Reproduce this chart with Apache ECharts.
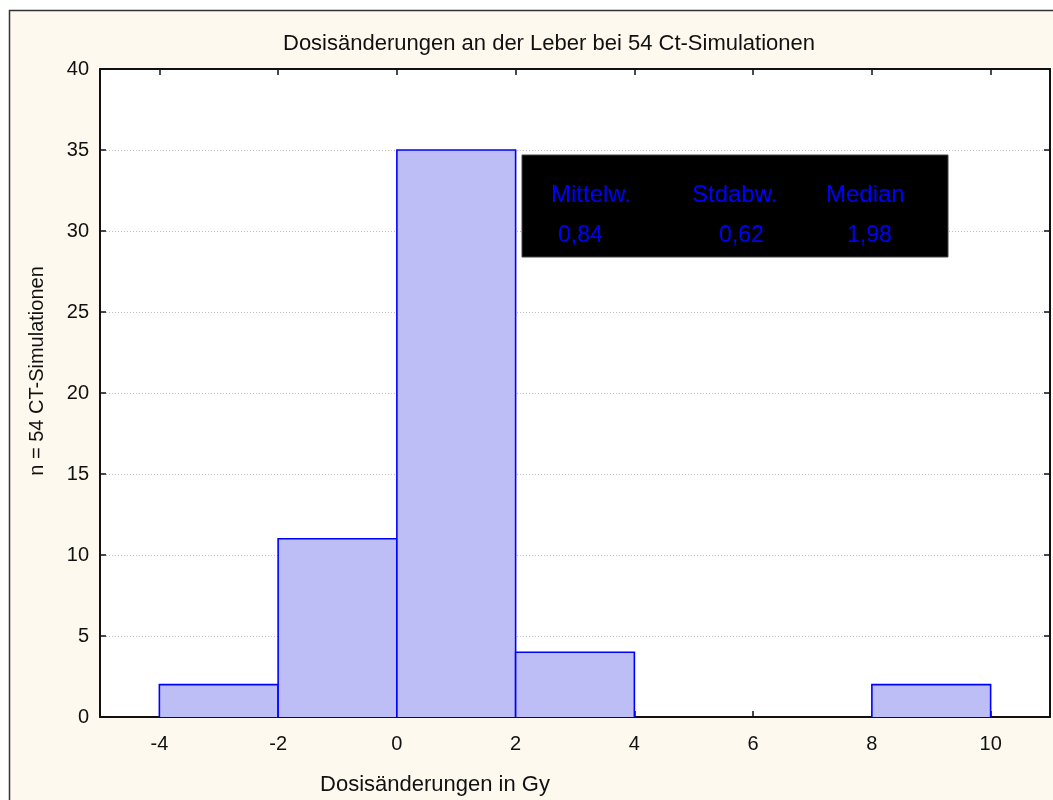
<!DOCTYPE html>
<html>
<head>
<meta charset="utf-8">
<script src="https://cdn.jsdelivr.net/npm/echarts@6/dist/echarts.min.js"></script>
<style>
html,body{margin:0;padding:0;background:#fff;}
#chart{width:1053px;height:800px;}
</style>
</head>
<body>
<div id="chart"></div>
<script>
// Histogram bins: lower edge, upper edge, count
const binStart = [-4, -2, 0, 2, 8];
const binEnd   = [-2, 0, 2, 4, 10];
const counts   = [2, 11, 35, 4, 2];
const xTicks = [-4, -2, 0, 2, 4, 6, 8, 10];
const yTicks = [0, 5, 10, 15, 20, 25, 30, 35, 40];
const statNames  = ['Mittelw.', 'Stdabw.', 'Median'];
const statValues = ['0,84', '0,62', '1,98'];

const FONT = '"Liberation Sans", Arial, sans-serif';
const chart = echarts.init(document.getElementById('chart'), null, {renderer: 'canvas'});

const data = binStart.map((s, i) => [s, binEnd[i], counts[i]]);

const axisLineStyle = {color: '#111', width: 2};

const statX1 = [551, 692, 826];
const statX2 = [558, 719, 847];

const option = {
  backgroundColor: '#FEF9EE',
  animation: false,
  grid: {left: 100, top: 69, right: 3, bottom: 83, show: true, backgroundColor: '#fff', borderWidth: 0},
  xAxis: [{
    type: 'value', min: -5, max: 11,
    axisLine: {show: true, onZero: false, lineStyle: axisLineStyle},
    axisTick: {show: true, inside: true, length: 6, customValues: xTicks, lineStyle: {color: '#111', width: 1.5}},
    axisLabel: {customValues: xTicks, fontSize: 20, color: '#111', fontFamily: FONT, margin: 17},
    splitLine: {show: false}
  }, {
    type: 'value', min: -5, max: 11, position: 'top',
    axisLine: {show: true, onZero: false, lineStyle: axisLineStyle},
    axisTick: {show: true, inside: true, length: 6, customValues: xTicks, lineStyle: {color: '#111', width: 1.5}},
    axisLabel: {show: false, customValues: xTicks},
    splitLine: {show: false}
  }],
  yAxis: [{
    type: 'value', min: 0, max: 40, interval: 5,
    axisLine: {show: true, onZero: false, lineStyle: axisLineStyle},
    axisTick: {show: true, inside: true, length: 6, lineStyle: {color: '#111', width: 1.5}},
    axisLabel: {fontSize: 20, color: '#111', fontFamily: FONT, margin: 11},
    splitLine: {show: true, lineStyle: {color: '#bdbdbd', width: 1, type: [1, 2]}}
  }, {
    type: 'value', min: 0, max: 40, interval: 5, position: 'right',
    axisLine: {show: true, onZero: false, lineStyle: axisLineStyle},
    axisTick: {show: true, inside: true, length: 6, lineStyle: {color: '#111', width: 1.5}},
    axisLabel: {show: false},
    splitLine: {show: false}
  }],
  series: [{
    type: 'custom',
    xAxisIndex: 0, yAxisIndex: 0,
    data: data,
    encode: {x: [0, 1], y: 2},
    renderItem: function (params, api) {
      const p0 = api.coord([api.value(0), api.value(2)]);
      const p1 = api.coord([api.value(1), 0]);
      return {
        type: 'group',
        children: [{
          type: 'rect',
          shape: {x: p0[0], y: p0[1], width: p1[0] - p0[0], height: p1[1] - p0[1]},
          style: {fill: '#BEBEF7', stroke: null}
        }, {
          type: 'polyline',
          shape: {points: [[p0[0], p1[1]], [p0[0], p0[1]], [p1[0], p0[1]], [p1[0], p1[1]]]},
          style: {fill: null, stroke: '#0000ff', lineWidth: 1.6}
        }]
      };
    },
    z: 1
  }],
  graphic: [
    {type: 'rect', z: 100, shape: {x: 0, y: 0, width: 1053, height: 10.5}, style: {fill: '#fff'}},
    {type: 'rect', z: 100, shape: {x: 0, y: 0, width: 9, height: 800}, style: {fill: '#fff'}},
    {type: 'rect', z: 101, shape: {x: 9.5, y: 10.5, width: 1100, height: 900}, style: {fill: null, stroke: '#333', lineWidth: 1.5}},
    {type: 'text', z: 101, x: 549, y: 44, style: {text: 'Dosisänderungen an der Leber bei 54 Ct-Simulationen', fontSize: 22, fontFamily: FONT, fill: '#111', align: 'center', verticalAlign: 'middle'}},
    {type: 'text', z: 101, x: 435, y: 785, style: {text: 'Dosisänderungen in Gy', fontSize: 22, fontFamily: FONT, fill: '#111', align: 'center', verticalAlign: 'middle'}},
    {type: 'text', z: 101, x: 37, y: 371, rotation: Math.PI / 2, style: {text: 'n = 54 CT-Simulationen', fontSize: 20, fontFamily: FONT, fill: '#111', align: 'center', verticalAlign: 'middle'}},
    {type: 'rect', z: 101, shape: {x: 522, y: 155, width: 426, height: 102}, style: {fill: '#000', stroke: '#444', lineWidth: 1}}
  ].concat(statNames.map((t, i) => ({
    type: 'text', z: 102, x: statX1[i], y: 195, style: {text: t, fontSize: 24, fontFamily: FONT, fill: '#0000ff', align: 'left', verticalAlign: 'middle'}
  }))).concat(statValues.map((t, i) => ({
    type: 'text', z: 102, x: statX2[i], y: 236, style: {text: t, fontSize: 23, fontFamily: FONT, fill: '#0000ff', align: 'left', verticalAlign: 'middle'}
  })))
};
chart.setOption(option);
</script>
</body>
</html>
